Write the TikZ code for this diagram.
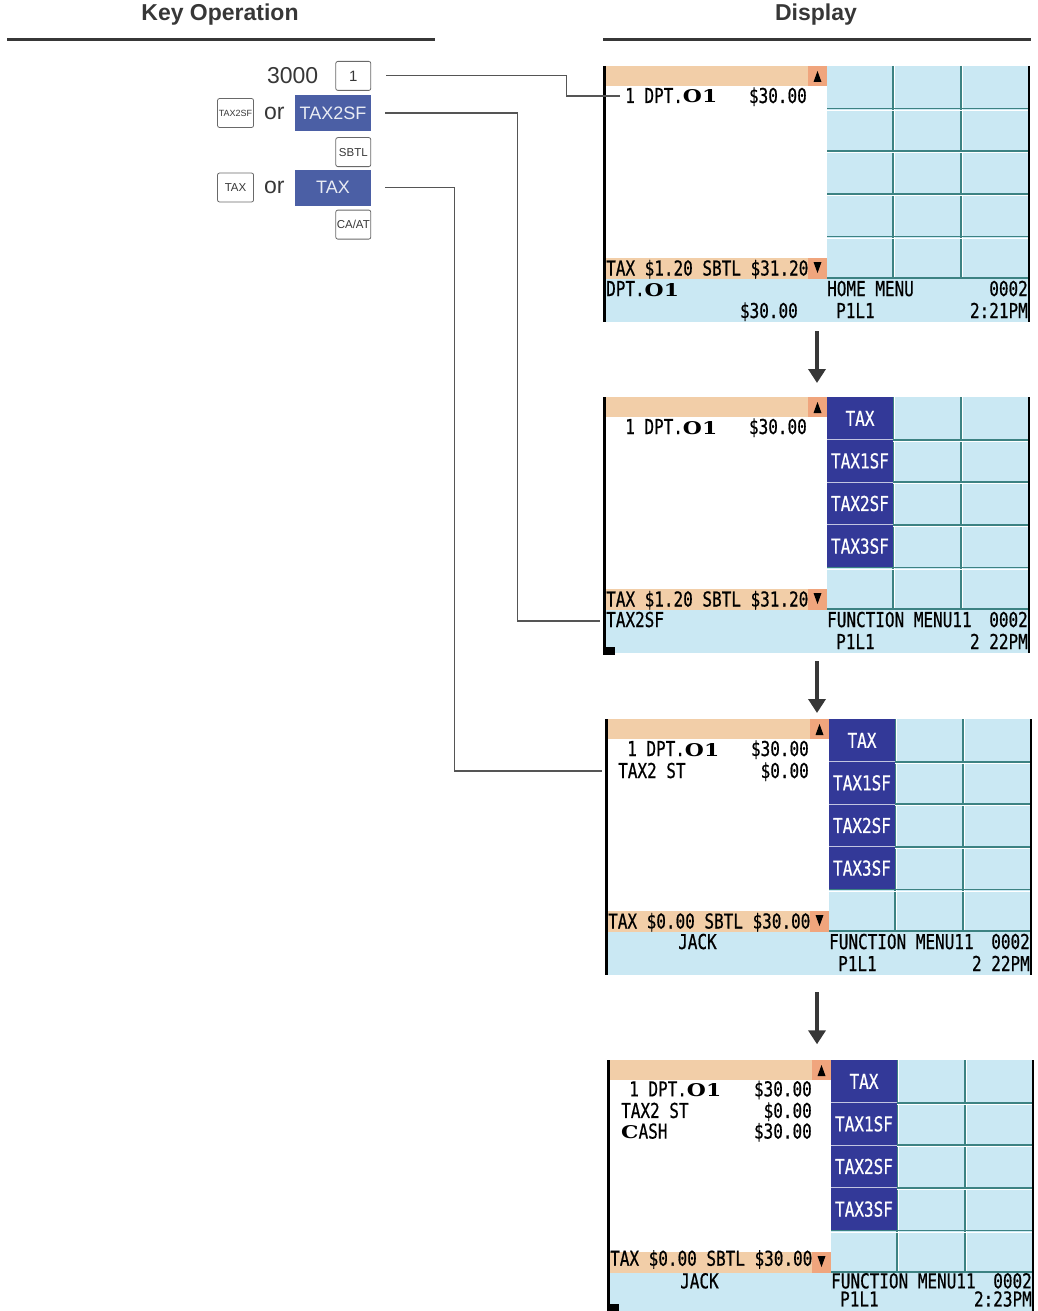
\documentclass[tikz,border=0pt]{standalone}
\usepackage{fontspec}
\setmainfont{Liberation Sans}
\newfontfamily\lcdfont[FakeStretch=0.78,FakeBold=0.6]{DejaVu Sans Mono}
\newfontfamily\dptfont[FakeStretch=1.25]{DejaVu Serif}
\usetikzlibrary{arrows.meta,positioning}
\definecolor{ink}{RGB}{55,55,55}
\definecolor{keyblue}{RGB}{75,95,165}
\definecolor{barorange}{RGB}{242,206,168}
\definecolor{arrowcell}{RGB}{240,165,125}
\definecolor{lcdblue}{RGB}{202,232,243}
\definecolor{gridteal}{RGB}{60,130,130}
\definecolor{fnnavy}{RGB}{51,57,152}
\newcommand\dptone{{\dptfont\bfseries\fontsize{17.5}{18}\selectfont O1}}

\begin{document}
\begin{tikzpicture}[x=1pt,y=-1pt,
				head/.style={font=\fontsize{23}{26}\selectfont\bfseries,text=ink},
				rule/.style={line width=3pt,ink},
				plain/.style={font=\fontsize{23}{26}\selectfont,text=ink,inner sep=0pt},
				key/.style={draw=ink!75,rounded corners=2pt,line width=0.8pt,
					minimum width=35pt,minimum height=29pt,inner sep=1pt,
					font=\fontsize{11.5}{12}\selectfont,text=ink},
				softkey/.style={fill=keyblue,text=white!88!keyblue,minimum width=76pt,
					minimum height=36pt,inner sep=0pt,font=\fontsize{18}{20}\selectfont},
				link/.style={draw=ink!85,line width=1.2pt},
				down/.style={-{Triangle[width=17pt,length=14pt]},line width=4pt,ink},
				lcd/.style={font=\lcdfont\fontsize{20.5}{22}\selectfont,text=black,
					inner sep=0pt,anchor=base west},
				lcdr/.style={lcd,anchor=base east},
				fnlabel/.style={font=\lcdfont\fontsize{20.5}{22}\selectfont,text=white,inner sep=0pt},
				cellrim/.style={gridteal,line width=1.8pt},
				cellhi/.style={white,line width=0.9pt},
				screen/.pic={
					\fill[barorange] (1,0) rectangle (223,20);
					\fill[barorange] (1,192) rectangle (223,213);
					\fill[arrowcell] (204,0) rectangle (223,20);
					\fill[arrowcell] (204,192) rectangle (223,213);
					\fill[black] (209.5,16) -- (217.5,16) -- (213.5,5) -- cycle;
					\fill[black] (209.5,196) -- (217.5,196) -- (213.5,207) -- cycle;
					\fill[lcdblue] (1,213) rectangle (425,256);
					\fill[lcdblue] (223,0) rectangle (425,213);
					\foreach \gx in {289,357} {
						\draw[cellhi] (\gx+1.6,0) -- (\gx+1.6,212);
						\draw[cellrim] (\gx,0) -- (\gx,212);
					}
					\foreach \gy in {42.6,85.2,127.8,170.4} {
						\draw[cellhi] (223,\gy+1.6) -- (424,\gy+1.6);
						\draw[cellrim] (223,\gy) -- (424,\gy);
					}
					\draw[cellrim] (223,212.2) -- (424,212.2);
					\draw[line width=3pt] (0,0) -- (0,256);
					\draw[line width=2.5pt] (425,0) -- (425,256);
				},
				fnkeys/.pic={
					\fill[fnnavy] (223,0) rectangle (289,170.4);
					\foreach \gy in {42.6,85.2,127.8}
						\draw[white!70!fnnavy,line width=1pt] (223,\gy) -- (289,\gy);
					\node[fnlabel] (-tax) at (256,21.3) {TAX};
					\node[fnlabel] (-tax1) at (256,63.9) {TAX1SF};
					\node[fnlabel] (-tax2) at (256,106.5) {TAX2SF};
					\node[fnlabel] (-tax3) at (256,149.1) {TAX3SF};
				}]
				\useasboundingbox (0,0) rectangle (1037,1311);

				% headings
				\node[head] (keyop) at (220,15) {Key Operation};
				\node[head] (disp) at (816,15) {Display};
				\draw[rule] (7,40) -- (435,40);
				\draw[rule] (603,40) -- (1031,40);

				% keys
				\node[softkey] (s2) at (333,113) {TAX2SF};
				\node[softkey] (st) at (333,187.5) {TAX};
				\node[key,above=4pt of s2.north east,anchor=south east] (k1) {\fontsize{15}{16}\selectfont 1};
				\node[plain,left=17pt of k1] (qty) {3000};
				\node[plain,left=10pt of s2] (or1) {or};
				\node[key,minimum width=36pt,left=10pt of or1,font=\fontsize{9}{9}\selectfont] (kt2) {TAX2SF};
				\node[key,below=6pt of s2.south east,anchor=north east] (ksb) {SBTL};
				\node[plain,left=10pt of st] (or2) {or};
				\node[key,minimum width=36pt,left=10pt of or2] (kt) {TAX};
				\node[key,below=4pt of st.south east,anchor=north east] (kca) {CA/AT};

				% display 1
				\begin{scope}[shift={(604,66)}]
					\pic (d1) at (0,0) {screen};
					\node[lcd] (d1-item) at (21,37) {1 DPT.\dptone};
					\node[lcdr] (d1-amt) at (203,37) {\$30.00};
					\node[lcd] (d1-sum) at (2,209.5) {TAX \$1.20 SBTL \$31.20};
					\node[lcd] (d1-st) at (2,230) {DPT.\dptone};
					\node[lcdr] (d1-stamt) at (194,252) {\$30.00};
					\node[lcd] (d1-menu) at (223,230) {HOME MENU};
					\node[lcdr] (d1-no) at (424,230) {0002};
					\node[lcd] (d1-pos) at (232,252) {P1L1};
					\node[lcdr] (d1-time) at (424,252) {2:21PM};
					\coordinate (d1-in) at (16,30);
					\coordinate (d1-s) at (213,265);
				\end{scope}

				% display 2
				\begin{scope}[shift={(604,397)}]
					\pic (d2) at (0,0) {screen};
					\pic (d2f) at (0,0) {fnkeys};
					\fill (-1,250) rectangle (11,258);
					\node[lcd] (d2-item) at (21,37) {1 DPT.\dptone};
					\node[lcdr] (d2-amt) at (203,37) {\$30.00};
					\node[lcd] (d2-sum) at (2,209.5) {TAX \$1.20 SBTL \$31.20};
					\node[lcd] (d2-st) at (2,230) {TAX2SF};
					\node[lcd] (d2-menu) at (223,230) {FUNCTION MENU11};
					\node[lcdr] (d2-no) at (424,230) {0002};
					\node[lcd] (d2-pos) at (232,252) {P1L1};
					\node[lcdr] (d2-time) at (424,252) {2 22PM};
					\coordinate (d2-n) at (213,-14);
					\coordinate (d2-in) at (-4,224);
					\coordinate (d2-s) at (213,264);
				\end{scope}

				% display 3
				\begin{scope}[shift={(606,719)}]
					\pic (d3) at (0,0) {screen};
					\pic (d3f) at (0,0) {fnkeys};
					\node[lcd] (d3-item) at (21,37) {1 DPT.\dptone};
					\node[lcdr] (d3-amt) at (203,37) {\$30.00};
					\node[lcd] (d3-tax) at (12,59) {TAX2 ST};
					\node[lcdr] (d3-taxamt) at (203,59) {\$0.00};
					\node[lcd] (d3-sum) at (2,209.5) {TAX \$0.00 SBTL \$30.00};
					\node[lcd] (d3-st) at (72,230) {JACK};
					\node[lcd] (d3-menu) at (223,230) {FUNCTION MENU11};
					\node[lcdr] (d3-no) at (424,230) {0002};
					\node[lcd] (d3-pos) at (232,252) {P1L1};
					\node[lcdr] (d3-time) at (424,252) {2 22PM};
					\coordinate (d3-n) at (211,-6);
					\coordinate (d3-in) at (-4,52);
					\coordinate (d3-s) at (211,273);
				\end{scope}

				% display 4
				\begin{scope}[shift={(608,1060)},yscale=0.982]
					\pic (d4) at (0,0) {screen};
					\pic (d4f) at (0,0) {fnkeys};
					\fill (-1,248) rectangle (11,256);
					\node[lcd] (d4-item) at (21,37) {1 DPT.\dptone};
					\node[lcdr] (d4-amt) at (204,37) {\$30.00};
					\node[lcd] (d4-tax) at (13,59) {TAX2 ST};
					\node[lcdr] (d4-taxamt) at (204,59) {\$0.00};
					\node[lcd] (d4-cash) at (13,80) {{\dptfont\bfseries\fontsize{17.5}{18}\selectfont C}ASH};
					\node[lcdr] (d4-cashamt) at (204,80) {\$30.00};
					\node[lcd] (d4-sum) at (2,209.5) {TAX \$0.00 SBTL \$30.00};
					\node[lcd] (d4-st) at (72,232.5) {JACK};
					\node[lcd] (d4-menu) at (223,232.5) {FUNCTION MENU11};
					\node[lcdr] (d4-no) at (424,232.5) {0002};
					\node[lcd] (d4-pos) at (232,251) {P1L1};
					\node[lcdr] (d4-time) at (424,251) {2:23PM};
					\coordinate (d4-n) at (209,-16);
				\end{scope}

				% connectors
				\draw[link] ([xshift=15pt]k1.east) -- ++(180,0) |- (d1-in);
				\draw[link] ([xshift=14pt]s2.east) -- ++(132,0) |- (d2-in);
				\draw[link] ([xshift=14pt]st.east) -- ++(69,0) |- (d3-in);
				\draw[down] (d1-s) -- (d2-n);
				\draw[down] (d2-s) -- (d3-n);
				\draw[down] (d3-s) -- (d4-n);
			\end{tikzpicture}
\end{document}
